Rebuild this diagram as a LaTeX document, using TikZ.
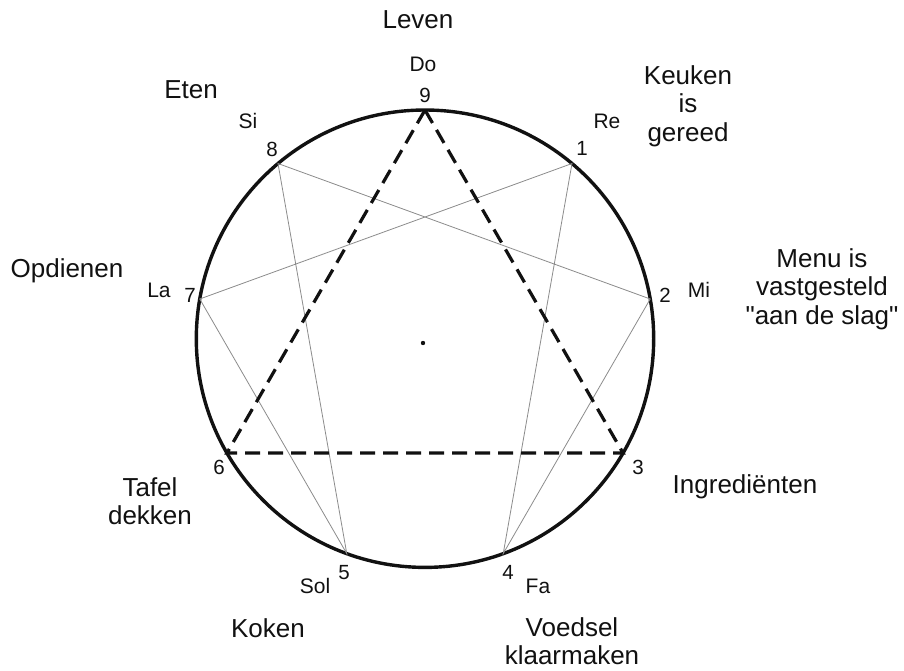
\documentclass[tikz,border=0pt]{standalone}
\usepackage{fontspec}
\setmainfont{Liberation Sans}[Ligatures=TeXOff]
\usetikzlibrary{positioning}
\definecolor{cInk}{HTML}{111111}
\definecolor{cThin}{HTML}{8C8C8C}
\newcommand{\ringR}{228.7}
\tikzset{
  ring/.style={draw=cInk, line width=3.4pt},
  cord/.style={draw=cThin, line width=0.8pt, line join=miter},
  tri/.style={draw=cInk, line width=3.2pt, dash pattern=on 15pt off 8pt, line join=miter},
  num/.style={font=\fontsize{20.5}{22}\selectfont, inner sep=0pt, anchor=base, text=cInk},
  tone/.style={num, font=\fontsize{21}{23}\selectfont},
  phase/.style={font=\fontsize{26}{28.5}\selectfont, inner sep=0pt, align=center, text=cInk}
}
\begin{document}
\begin{tikzpicture}[x=1pt,y=1pt]
\fill[white] (-425,-331.3) rectangle (479,338.7);
\useasboundingbox (-425,-331.3) rectangle (479,338.7);
% points on the ring, 9 at the top
\foreach \i in {1,...,9} \coordinate (p\i) at ({90-40*\i}:\ringR);
\coordinate (mid) at (-2,-4.3);
\draw[ring] (0,0) circle (\ringR);
\draw[cord] (p1)--(p4)--(p2)--(p8)--(p5)--(p7)--cycle;
\draw[tri] (p9)--(p3)--(p6)--cycle;
\fill[cInk] (mid) circle (2.2);
% numbers
\node[num] (n9) at (0,236.7) {9};
\node[num] (n1) at (157,183.7) {1};
\node[num] (n2) at (240,36.7) {2};
\node[num] (n3) at (213,-135.3) {3};
\node[num] (n4) at (83,-240.3) {4};
\node[num] (n5) at (-81,-240.3) {5};
\node[num] (n6) at (-206,-135.3) {6};
\node[num] (n7) at (-235,36.7) {7};
\node[num] (n8) at (-153,182.7) {8};
% tones
\node[tone] (do) at (-2,267.7) {Do};
\node[tone] (re) at (182,210.7) {Re};
\node[tone] (mi) at (274,41.7) {Mi};
\node[tone] (fa) at (113,-254.3) {Fa};
\node[tone] (sol) at (-110,-254.3) {Sol};
\node[tone] (la) at (-266,41.7) {La};
\node[tone] (si) at (-177,210.7) {Si};
% phases
\node[phase, anchor=base] (leven) at (-7,309.7) {Leven};
\node[phase, anchor=north] (keuken) at (263,273.7) {Keuken\\is\\gereed};
\node[phase, anchor=north] (menu) at (397,90.7) {Menu is\\vastgesteld\\"aan de slag"};
\node[phase, anchor=base] (ingr) at (320,-154.3) {Ingrediënten};
\node[phase, anchor=north] (voedsel) at (147,-278.3) {Voedsel\\klaarmaken};
\node[phase, anchor=base] (koken) at (-157,-298.3) {Koken};
\node[phase, anchor=north] (tafel) at (-275,-138.3) {Tafel\\dekken};
\node[phase, anchor=base] (opd) at (-358,61.7) {Opdienen};
\node[phase, anchor=base] (eten) at (-234,240.7) {Eten};
\end{tikzpicture}
\end{document}
